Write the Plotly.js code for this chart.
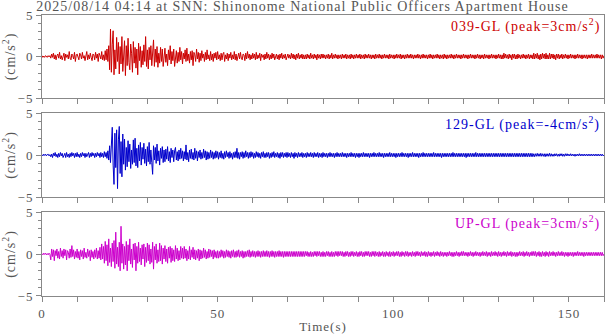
<!DOCTYPE html>
<html>
<head>
<meta charset="utf-8">
<script src="https://cdn.plot.ly/plotly-3.0.1.min.js"></script>
<style>
  html, body { margin: 0; padding: 0; background: #fff; }
  #wave { width: 605px; height: 334px; }
  text { letter-spacing: 1px; }
</style>
</head>
<body>
<div id="wave"></div>
<script>
// sample step (s) of the hand-read traces
var dt = 0.25;

// 039-GL, one row = 5 s
var ew = [
  0.1,-0.1,0.05,-0.1,0.1,0,-0.1,0.1,-0.05,0.1,-0.2,0.3,-0.1,0.4,-0.3,0.2,-0.4,0.1,0.3,-0.2,
  0.5,-0.3,0.1,-0.4,0.2,0.4,-0.5,0.3,-0.1,0.2,-0.3,0.6,-0.2,-0.4,0.3,0.1,-0.3,0.5,-0.6,0.2,
  0.3,-0.1,-0.4,0.4,0.2,-0.3,0.5,-0.2,0.1,-0.5,0.3,0.6,-0.4,0.2,-0.3,0.4,-0.1,-0.5,0.3,0.2,
  -0.4,0.5,-0.2,0.3,-0.6,0.4,0.1,-0.3,0.6,-0.4,0.2,-0.5,0.7,-0.4,0.9,-0.6,1.3,-1.6,3.3,-1.9,
  1.4,3.1,-2.2,0.8,-1.5,2.3,-0.6,1.7,-2.1,1.2,-0.9,2.4,-1.8,0.6,1.9,-2.3,1.3,-1.1,2.2,-0.7,
  -1.6,1.5,0.4,-1.9,1.8,-0.8,1.1,-1.4,0.9,-2.2,1.6,-0.5,1.2,-1.3,0.7,-1.0,1.4,-0.6,2.4,-1.2,
  0.8,-1.5,1.1,-0.4,1.3,-1.1,0.5,2.0,-1.2,0.9,-0.7,1.2,-1.3,0.4,-0.8,1.1,-0.6,0.9,-1.2,0.5,
  1.0,-0.7,0.3,-1.1,0.8,-0.4,1.3,-0.9,0.6,-0.5,0.9,-1.2,0.4,0.7,-0.8,0.5,-0.6,1.1,-0.4,0.6,
  -0.9,0.4,-0.3,0.8,-0.6,1.0,-0.5,0.3,-0.8,0.6,-0.4,0.7,-1.1,0.5,0.2,-0.6,0.9,-0.3,0.5,-0.7,
  0.4,-0.5,0.7,-0.2,0.3,-0.6,0.5,-0.4,0.8,-0.3,0.2,-0.5,0.6,-0.4,0.3,-0.6,0.4,-0.2,0.5,-0.4,
  0.6,-0.3,0.2,-0.5,0.4,-0.4,0.3,0.5,-0.6,0.2,-0.3,0.4,-0.5,0.3,-0.2,0.5,-0.4,0.2,-0.3,0.6,
  -0.4,0.3,-0.5,0.2,0.4,-0.3,0.5,-0.2,-0.4,0.3,0.2,-0.5,0.4,-0.3,0.6,-0.2,0.3,-0.4,0.2,-0.3,
  0.4,-0.2,0.3,-0.4,0.5,-0.3,0.2,-0.2,0.4,-0.5,0.3,-0.1,0.2,-0.4,0.3,-0.3,0.5,-0.2,0.3,-0.4,
  0.2,-0.3,0.4,-0.2,0.3,-0.4,0.2,0.3,-0.3,0.2,-0.4,0.3,-0.2,0.4,-0.3,0.2,-0.2,0.3,-0.4,0.2,
  0.3,-0.2,0.2,-0.3,0.4,-0.2,0.3,-0.3,0.2,-0.4,0.3,-0.2,0.4,-0.3,0.2,-0.2,0.3,-0.3,0.2,-0.3,
  0.2,-0.3,0.3,-0.2,0.2,-0.3,0.4,-0.2,0.2,-0.3,0.3,-0.2,0.2,-0.4,0.3,-0.2,0.2,-0.3,0.3,-0.2,
  0.3,-0.2,0.2,-0.3,0.2,-0.2,0.3,-0.3,0.2,-0.2,0.4,-0.3,0.2,-0.2,0.3,-0.2,0.2,-0.3,0.2,-0.2,
  0.2,-0.3,0.3,-0.2,0.2,-0.2,0.3,-0.3,0.2,-0.2,0.2,-0.3,0.3,-0.2,0.2,-0.3,0.2,-0.2,0.3,-0.2,
  0.2,-0.2,0.3,-0.3,0.2,-0.2,0.2,-0.3,0.3,-0.2,0.2,-0.2,0.3,-0.2,0.2,-0.3,0.2,-0.2,0.2,-0.3,
  0.3,-0.2,0.2,-0.2,0.3,-0.2,0.2,-0.3,0.2,-0.2,0.3,-0.2,0.2,-0.2,0.2,-0.3,0.3,-0.2,0.2,-0.2,
  0.2,-0.3,0.2,-0.2,0.3,-0.2,0.2,-0.2,0.3,-0.3,0.2,-0.2,0.2,-0.3,0.2,-0.2,0.3,-0.2,0.2,-0.2,
  0.3,-0.2,0.2,-0.3,0.2,-0.2,0.2,-0.2,0.3,-0.2,0.2,-0.3,0.2,-0.2,0.3,-0.2,0.2,-0.2,0.2,-0.3,
  0.2,-0.2,0.3,-0.2,0.2,-0.3,0.2,-0.2,0.2,-0.2,0.3,-0.2,0.2,-0.3,0.2,-0.2,0.2,-0.3,0.3,-0.2,
  0.2,-0.3,0.2,-0.2,0.2,-0.2,0.3,-0.2,0.2,-0.3,0.2,-0.2,0.3,-0.2,0.2,-0.2,0.2,-0.3,0.2,-0.2,
  0.3,-0.2,0.2,-0.2,0.2,-0.3,0.2,-0.2,0.3,-0.2,0.2,-0.2,0.2,-0.3,0.2,-0.2,0.3,-0.2,0.2,-0.3,
  0.2,-0.2,0.2,-0.3,0.3,-0.2,0.2,-0.2,0.2,-0.3,0.2,-0.2,0.3,-0.2,0.2,-0.2,0.2,-0.3,0.2,-0.2,
  0.3,-0.2,0.2,-0.3,0.2,-0.3,0.4,-0.2,0.3,-0.2,0.2,-0.3,0.3,-0.2,0.2,-0.4,0.3,-0.2,0.3,-0.3,
  0.2,-0.3,0.3,-0.2,0.2,-0.3,0.2,-0.2,0.3,-0.2,0.2,-0.3,0.2,-0.2,0.3,-0.3,0.2,-0.2,0.2,-0.3,
  0.4,-0.3,0.3,-0.2,0.4,-0.3,0.2,-0.4,0.3,-0.3,0.4,-0.2,0.3,-0.3,0.4,-0.3,0.2,-0.3,0.4,-0.3,
  0.3,-0.2,0.3,-0.3,0.2,-0.4,0.3,-0.2,0.3,-0.3,0.2,-0.2,0.3,-0.3,0.2,-0.2,0.3,-0.2,0.2,-0.3,
  0.2,-0.2,0.3,-0.2,0.2,-0.2,0.2,-0.3,0.2,-0.2,0.3,-0.2,0.2,-0.2,0.2,-0.3,0.2,-0.2,0.2,-0.2,
  0.2,-0.3,0.2,-0.2,0.2,-0.2,0.3,-0.2,0.2,-0.2,0.2,-0.2,0.3,-0.2,0.2,-0.2,0.2,-0.3,0.2,-0.2,
  0.1
];

// 129-GL
var ns = [
  0.05,-0.1,0.1,-0.05,0.1,-0.1,0.05,0.1,-0.1,0.05,-0.2,0.1,-0.3,0.2,-0.1,0.3,-0.2,0.1,-0.3,0.2,
  -0.2,0.3,-0.1,0.2,-0.3,0.1,0.2,-0.3,0.3,-0.2,0.1,-0.3,0.2,-0.2,0.3,-0.1,0.2,-0.3,0.2,-0.2,
  0.3,-0.2,0.1,-0.3,0.2,-0.2,0.3,-0.1,0.2,-0.3,0.2,-0.2,0.1,0.3,-0.3,0.2,-0.2,0.3,-0.1,0.2,
  -0.3,0.2,-0.2,0.3,-0.1,0.2,-0.3,0.3,-0.2,0.2,-0.3,0.4,-0.2,0.3,-0.4,0.5,-0.6,1.1,-0.9,1.6,
  3.3,-1.2,-3.5,2.6,-1.5,3.0,-4.0,1.8,3.4,-2.2,1.6,-2.6,2.5,-1.1,1.9,-1.8,0.9,-1.4,1.7,-0.8,
  1.3,-1.6,0.6,-1.1,1.8,-0.9,2.0,-1.3,0.8,-1.5,1.2,-0.7,1.5,-1.2,0.9,-0.5,1.4,-1.0,0.7,-1.3,
  1.0,-0.8,1.5,-1.1,0.6,-0.9,-2.3,1.1,-0.6,0.9,-1.0,1.3,-0.7,0.5,-1.2,0.8,-0.4,1.0,-0.9,0.6,
  -0.8,0.7,-0.5,1.0,-0.7,0.4,-0.9,0.8,-0.3,0.6,-0.8,0.5,0.9,-0.6,0.4,-0.7,0.6,-0.5,0.8,-0.4,
  0.5,-0.7,0.4,-0.5,1.2,-0.6,0.3,-0.8,0.6,-0.4,0.7,-0.5,0.3,-0.6,0.8,-0.4,0.5,-0.7,0.4,-0.3,
  0.6,-0.5,0.3,-0.4,0.7,-0.3,0.5,-0.6,0.4,-0.5,0.3,-0.4,0.6,-0.3,0.4,-0.5,0.3,-0.4,0.5,-0.3,
  0.4,-0.5,0.3,-0.3,0.5,-0.4,0.2,-0.5,0.4,-0.3,0.5,-0.2,0.3,-0.4,0.4,-0.3,0.2,-0.5,0.3,-0.3,
  0.4,-0.3,0.8,-0.4,0.3,-0.5,0.3,-0.2,0.4,-0.4,0.3,-0.3,0.5,-0.2,0.3,-0.4,0.3,-0.3,0.4,-0.2,
  0.3,-0.4,0.2,-0.3,0.4,-0.2,0.3,-0.3,0.2,-0.4,0.3,-0.2,0.4,-0.3,0.2,-0.3,0.3,-0.2,0.3,-0.4,
  0.2,-0.3,0.3,-0.2,0.4,-0.3,0.2,-0.2,0.3,-0.3,0.2,-0.4,0.3,-0.2,0.3,-0.3,0.2,-0.2,0.3,-0.3,
  0.3,-0.2,0.2,-0.3,0.3,-0.2,0.2,-0.4,0.3,-0.2,0.2,-0.3,0.3,-0.2,0.2,-0.2,0.3,-0.3,0.2,-0.2,
  0.2,-0.3,0.3,-0.2,0.2,-0.2,0.3,-0.2,0.2,-0.3,0.3,-0.2,0.2,-0.2,0.3,-0.3,0.2,-0.2,0.2,-0.3,
  0.3,-0.2,0.2,-0.2,0.2,-0.3,0.2,-0.2,0.3,-0.2,0.2,-0.2,0.2,-0.3,0.2,-0.2,0.3,-0.2,0.2,-0.2,
  0.2,-0.2,0.3,-0.2,0.2,-0.2,0.2,-0.3,0.2,-0.2,0.2,-0.2,0.3,-0.2,0.2,-0.2,0.2,-0.3,0.2,-0.2,
  0.2,-0.3,0.2,-0.2,0.2,-0.2,0.3,-0.2,0.2,-0.2,0.2,-0.2,0.2,-0.3,0.2,-0.2,0.2,-0.2,0.3,-0.2,
  0.2,-0.2,0.2,-0.2,0.3,-0.2,0.2,-0.2,0.2,-0.3,0.2,-0.2,0.2,-0.2,0.2,-0.2,0.3,-0.2,0.2,-0.2,
  0.2,-0.2,0.2,-0.3,0.2,-0.2,0.2,-0.2,0.2,-0.2,0.3,-0.2,0.2,-0.2,0.2,-0.2,0.2,-0.3,0.2,-0.2,
  0.2,-0.2,0.3,-0.2,0.2,-0.2,0.2,-0.2,0.2,-0.3,0.2,-0.2,0.2,-0.2,0.3,-0.2,0.2,-0.2,0.2,-0.2,
  0.2,-0.2,0.2,-0.2,0.2,-0.2,0.3,-0.2,0.2,-0.2,0.2,-0.2,0.2,-0.2,0.2,-0.3,0.2,-0.2,0.2,-0.2,
  0.2,-0.2,0.2,-0.2,0.2,-0.2,0.2,-0.2,0.3,-0.2,0.2,-0.2,0.2,-0.2,0.2,-0.2,0.2,-0.2,0.2,-0.2,
  0.2,-0.2,0.2,-0.3,0.2,-0.2,0.2,-0.2,0.2,-0.2,0.2,-0.2,0.2,-0.2,0.3,-0.2,0.2,-0.2,0.2,-0.2,
  0.2,-0.2,0.2,-0.2,0.2,-0.2,0.2,-0.2,0.2,-0.2,0.2,-0.2,0.2,-0.2,0.2,-0.2,0.2,-0.2,0.2,-0.2,
  0.2,-0.2,0.2,-0.2,0.2,-0.2,0.2,-0.2,0.2,-0.2,0.2,-0.2,0.2,-0.2,0.2,-0.2,0.2,-0.2,0.2,-0.2,
  0.2,-0.2,0.2,-0.2,0.2,-0.2,0.2,-0.2,0.2,-0.2,0.2,-0.2,0.2,-0.2,0.2,-0.2,0.2,-0.2,0.2,-0.2,
  0.15,-0.2,0.15,-0.15,0.2,-0.15,0.15,-0.15,0.2,-0.15,0.15,-0.15,0.15,-0.2,0.15,-0.15,0.15,-0.15,0.2,-0.15,
  0.15,-0.15,0.1,-0.15,0.15,-0.1,0.15,-0.15,0.1,-0.15,0.15,-0.1,0.15,-0.15,0.1,-0.15,0.15,-0.1,0.15,-0.1,
  0.1,-0.1,0.15,-0.1,0.1,-0.1,0.1,-0.15,0.1,-0.1,0.1,-0.1,0.15,-0.1,0.1,-0.1,0.1,-0.1,0.1,-0.1,
  0.1,-0.1,0.1,-0.1,0.1,-0.1,0.1,-0.1,0.1,-0.1,0.1,-0.1,0.1,-0.1,0.1,-0.1,0.1,-0.1,0.1,-0.1,
  0.0
];

// UP-GL
var ud = [
  0.05,-0.1,0.1,-0.05,0.1,-0.1,0.05,-0.1,0.1,-0.05,-0.7,0.6,-0.3,0.5,-0.8,0.4,-0.2,0.6,-0.5,0.3,
  -0.6,0.7,-0.3,0.4,-0.5,0.6,-0.2,0.5,-0.7,0.4,0.2,-0.5,0.6,-0.4,1.0,-0.3,0.5,-0.6,0.3,-0.4,
  0.6,-0.5,0.3,-0.7,0.5,-0.3,0.4,-0.6,0.7,-0.4,0.2,-0.5,0.6,-0.3,0.4,-0.8,0.5,-0.4,0.3,-0.6,
  0.5,-0.4,0.7,-0.6,0.4,-0.5,0.8,-0.7,1.2,-0.6,0.9,-1.1,1.5,-0.8,1.1,-1.4,1.8,-1.0,0.7,-1.5,
  1.3,-0.9,1.6,-1.7,2.6,-1.2,0.8,-1.5,1.4,-2.0,3.3,-1.1,1.2,-1.8,0.9,-1.3,1.5,-2.0,1.1,-0.8,
  1.8,-1.2,0.6,-1.6,1.2,-0.7,1.3,-2.0,0.9,-1.1,1.4,-0.9,0.7,-1.3,1.1,-0.6,1.2,-1.5,0.8,-1.0,
  1.3,-0.8,1.1,-1.2,0.6,-1.0,1.4,-1.8,0.9,-0.7,1.2,-1.1,0.5,-0.9,1.3,-0.8,1.0,-1.2,0.7,-0.6,
  1.0,-0.9,0.6,-1.1,0.8,-0.5,0.9,-1.0,0.7,-0.8,0.5,-0.9,1.0,-0.6,0.7,-0.8,0.4,-0.7,0.9,-0.5,
  0.7,-0.6,0.9,-0.5,0.6,-0.8,0.4,-0.6,0.9,-0.7,0.5,-0.4,0.8,-0.6,0.5,-0.7,0.4,-0.5,0.6,-0.8,
  0.5,-0.6,0.4,-0.5,0.7,-0.4,0.5,-0.6,0.3,-0.5,0.6,-0.4,0.5,-0.3,0.4,-0.6,0.5,-0.4,0.3,-0.5,
  0.4,-0.5,0.3,-0.4,0.5,-0.3,0.4,-0.5,0.3,-0.4,0.5,-0.3,0.4,-0.4,0.3,-0.5,0.4,-0.3,0.5,-0.4,
  0.3,-0.4,0.4,-0.3,0.5,-0.4,0.3,-0.3,0.4,-0.5,0.3,-0.4,0.3,-0.3,0.4,-0.3,0.5,-0.4,0.3,-0.3,
  0.4,-0.3,0.3,-0.4,0.3,-0.3,0.4,-0.3,0.3,-0.4,0.3,-0.3,0.4,-0.3,0.3,-0.3,0.4,-0.3,0.3,-0.4,
  0.3,-0.3,0.4,-0.3,0.3,-0.4,0.3,-0.3,0.3,-0.3,0.4,-0.3,0.3,-0.3,0.3,-0.4,0.3,-0.3,0.3,-0.3,
  0.3,-0.3,0.3,-0.3,0.3,-0.3,0.3,-0.3,0.3,-0.3,0.3,-0.3,0.3,-0.3,0.3,-0.3,0.3,-0.3,0.3,-0.3,
  0.3,-0.2,0.3,-0.3,0.2,-0.3,0.3,-0.3,0.2,-0.3,0.3,-0.2,0.3,-0.3,0.3,-0.2,0.3,-0.3,0.2,-0.3,
  0.3,-0.3,0.2,-0.3,0.3,-0.2,0.3,-0.3,0.2,-0.3,0.3,-0.3,0.2,-0.3,0.3,-0.2,0.3,-0.3,0.3,-0.2,
  0.3,-0.2,0.3,-0.3,0.2,-0.3,0.3,-0.2,0.3,-0.3,0.2,-0.3,0.3,-0.2,0.3,-0.3,0.2,-0.2,0.3,-0.3,
  0.2,-0.3,0.3,-0.2,0.3,-0.3,0.2,-0.3,0.3,-0.2,0.3,-0.2,0.3,-0.3,0.2,-0.3,0.3,-0.2,0.3,-0.3,
  0.3,-0.2,0.2,-0.3,0.3,-0.3,0.2,-0.2,0.3,-0.3,0.2,-0.3,0.3,-0.2,0.2,-0.3,0.3,-0.3,0.2,-0.2,
  0.3,-0.3,0.2,-0.2,0.3,-0.2,0.3,-0.3,0.2,-0.3,0.3,-0.2,0.2,-0.3,0.3,-0.2,0.3,-0.3,0.2,-0.2,
  0.2,-0.3,0.3,-0.2,0.2,-0.3,0.3,-0.2,0.3,-0.2,0.2,-0.3,0.3,-0.2,0.2,-0.2,0.3,-0.3,0.2,-0.3,
  0.3,-0.2,0.2,-0.3,0.2,-0.2,0.3,-0.3,0.2,-0.2,0.3,-0.2,0.2,-0.3,0.3,-0.2,0.2,-0.3,0.2,-0.2,
  0.2,-0.3,0.2,-0.2,0.3,-0.2,0.2,-0.3,0.2,-0.3,0.2,-0.2,0.3,-0.2,0.2,-0.3,0.2,-0.2,0.3,-0.2,
  0.3,-0.2,0.2,-0.2,0.2,-0.3,0.2,-0.2,0.3,-0.2,0.2,-0.3,0.2,-0.2,0.3,-0.2,0.2,-0.2,0.2,-0.3,
  0.2,-0.2,0.3,-0.2,0.2,-0.2,0.3,-0.3,0.2,-0.2,0.2,-0.3,0.3,-0.2,0.2,-0.2,0.3,-0.2,0.2,-0.3,
  0.3,-0.2,0.2,-0.3,0.2,-0.2,0.3,-0.2,0.2,-0.3,0.3,-0.2,0.2,-0.2,0.3,-0.3,0.2,-0.2,0.2,-0.3,
  0.2,-0.3,0.2,-0.2,0.3,-0.2,0.2,-0.2,0.3,-0.3,0.2,-0.2,0.3,-0.2,0.2,-0.3,0.2,-0.2,0.3,-0.2,
  0.3,-0.2,0.3,-0.3,0.2,-0.2,0.3,-0.3,0.2,-0.3,0.3,-0.2,0.2,-0.3,0.3,-0.2,0.2,-0.3,0.3,-0.2,
  0.2,-0.2,0.3,-0.2,0.2,-0.3,0.2,-0.2,0.3,-0.2,0.2,-0.2,0.3,-0.2,0.2,-0.3,0.2,-0.2,0.2,-0.3,
  0.2,-0.2,0.2,-0.2,0.2,-0.3,0.2,-0.2,0.2,-0.2,0.3,-0.2,0.2,-0.2,0.2,-0.2,0.2,-0.3,0.2,-0.2,
  0.2,-0.2,0.2,-0.2,0.2,-0.2,0.2,-0.2,0.2,-0.2,0.2,-0.2,0.2,-0.2,0.2,-0.2,0.2,-0.2,0.2,-0.2,
  0.0
];

var names = ["039-GL", "129-GL", "UP-GL"];
var peaks = ["3", "-4", "3"];
var colors = ["#cc0000", "#0000cc", "#cc00cc"];
var xTicks = [0, 50, 100, 150];
var yTicks = [-5, 0, 5];

function times(v){
  var t = [];
  for (var i = 0; i < v.length; i++) t.push(i * dt);
  return t;
}

var grey = "#555";
var family = "Liberation Serif, Times New Roman, serif";
var fnt = {family: family, size: 13, color: grey};

var series = [ew, ns, ud];
var data = [];
for (var k = 0; k < 3; k++) {
  data.push({
    x: times(series[k]),
    y: series[k],
    type: 'scatter',
    mode: 'lines',
    xaxis: k == 0 ? 'x' : 'x' + (k + 1),
    yaxis: k == 0 ? 'y' : 'y' + (k + 1),
    line: {color: colors[k], width: 1},
    showlegend: false,
    hoverinfo: 'x+y'
  });
}

var domains = [[0.7046, 1], [0.3523, 0.6512], [0, 0.2989]];

var layout = {
  width: 605,
  height: 334,
  margin: {l: 42, r: 1, t: 15, b: 38},
  paper_bgcolor: "#fff",
  plot_bgcolor: "#fff",
  font: fnt,
  title: {
    text: "2025/08/14 04:14 at SNN: Shinonome National Public Officers Apartment House",
    font: {family: family, size: 14, color: grey},
    x: 0.5, xanchor: 'center',
    y: 0.995, yanchor: 'top'
  },
  annotations: []
};

for (var k = 0; k < 3; k++) {
  var xa = k == 0 ? 'xaxis' : 'xaxis' + (k + 1);
  var ya = k == 0 ? 'yaxis' : 'yaxis' + (k + 1);
  var yname = k == 0 ? 'y' : 'y' + (k + 1);
  layout[xa] = {
    range: [0, 160],
    anchor: yname,
    matches: k == 0 ? undefined : 'x',
    tickvals: xTicks,
    showticklabels: k == 2,
    ticks: 'outside',
    ticklen: 5,
    tickcolor: "#888",
    minor: {dtick: 10, tick0: 0, ticks: 'outside', ticklen: 5, tickcolor: "#888"},
    showgrid: false,
    zeroline: false,
    showline: true,
    linecolor: "#888",
    linewidth: 1,
    mirror: true,
    tickfont: fnt,
    title: k == 2 ? {text: "Time(s)", font: fnt, standoff: 2} : undefined
  };
  layout[ya] = {
    domain: domains[k],
    range: [-5, 5],
    anchor: k == 0 ? 'x' : 'x' + (k + 1),
    tickvals: yTicks,
    ticks: 'outside',
    ticklen: 5,
    tickcolor: "#888",
    minor: {dtick: 1, tick0: 0, ticks: 'outside', ticklen: 3, tickcolor: "#888"},
    showgrid: false,
    zeroline: false,
    showline: true,
    linecolor: "#888",
    linewidth: 1,
    mirror: true,
    tickfont: fnt,
    title: {text: "(cm/s<sup>2</sup>)", font: {family: family, size: 14, color: grey}, standoff: 4}
  };
  layout.annotations.push({
    xref: 'paper', x: 0.997, xanchor: 'right',
    yref: yname + ' domain', y: 1, yanchor: 'top', yshift: 1,
    text: names[k] + " (peak=" + peaks[k] + "cm/s<sup>2</sup>)",
    showarrow: false,
    font: {family: family, size: 14, color: colors[k]}
  });
}

Plotly.newPlot('wave', data, layout, {displayModeBar: false, staticPlot: true});
</script>
</body>
</html>
